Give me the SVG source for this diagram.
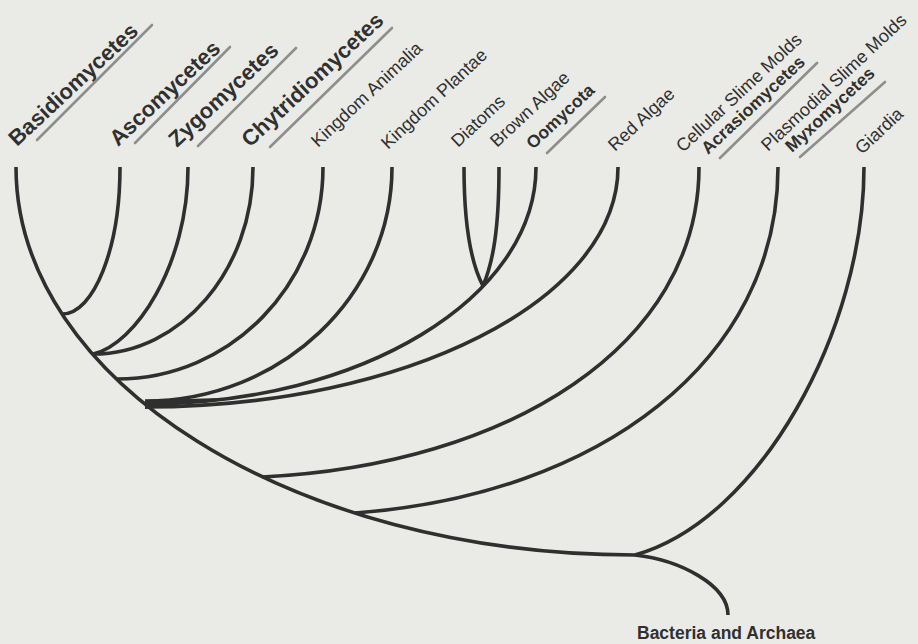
<svg xmlns="http://www.w3.org/2000/svg" width="918" height="644" viewBox="0 0 918 644">
  <style>
    .br { fill: none; stroke: #2f2f2f; stroke-width: 3.6; stroke-linecap: butt; stroke-linejoin: round; }
    .ul { stroke: #8e8e8e; stroke-width: 2.6; stroke-linecap: round; }
    .lb { font-family: "Liberation Sans", Arial, sans-serif; fill: #303030; }
    .big { font-size: 22px; font-weight: bold; }
    .reg { font-size: 18px; }
    .sub { font-size: 17.5px; font-weight: bold; }
  </style>
  <rect width="918" height="644" fill="#eaebe7"/>

  <g id="connectors">
    <path class="br" d="M16,167 C16,381 293,555 635,555"/>
    <path class="br" d="M120,167 C120,248 94,314 62,314"/>
    <path class="br" d="M188,167 C188,265 135,345 93,354"/>
    <path class="br" d="M253,167 C253,270 181,354 93,354"/>
    <path class="br" d="M323,167 C323,284 231,379 117,379"/>
    <path class="br" d="M392,167 C392,296 281,401 145,401"/>
    <path class="br" d="M536,167 C536,298 361,404 145,404"/>
    <path class="br" d="M464,167 C464,230 472,265 483,286"/>
    <path class="br" d="M499,167 C499,230 493,262 483,286"/>
    <path class="br" d="M618,167 C618,300 406,407 145,407"/>
    <path class="br" d="M699,167 C699,345 510,465 262,477"/>
    <path class="br" d="M778,167 C778,360 600,495 355,513"/>
    <path class="br" d="M864,167 C864,330 760,520 635,555"/>
    <path class="br" d="M635,555 C680,560 728,585 728,615"/>
    <path d="M145,400 L222,398 L145,409 Z" fill="#2f2f2f"/>
  </g>

  <g id="basidiomycetes">
    <text class="lb big" transform="translate(17,147) rotate(-43)">Basidiomycetes</text>
    <line class="ul" x1="37" y1="140" x2="152" y2="25"/>
  </g>
  <g id="ascomycetes">
    <text class="lb big" transform="translate(118,147) rotate(-43)">Ascomycetes</text>
    <line class="ul" x1="135" y1="143" x2="230" y2="47"/>
  </g>
  <g id="zygomycetes">
    <text class="lb big" transform="translate(177,148) rotate(-43)">Zygomycetes</text>
    <line class="ul" x1="198" y1="146" x2="296" y2="48"/>
  </g>
  <g id="chytridiomycetes">
    <text class="lb big" transform="translate(250,148) rotate(-43)">Chytridiomycetes</text>
    <line class="ul" x1="270" y1="147" x2="392" y2="28"/>
  </g>
  <g id="animalia">
    <text class="lb reg" transform="translate(318,148) rotate(-43)">Kingdom Animalia</text>
  </g>
  <g id="plantae">
    <text class="lb reg" transform="translate(388,150) rotate(-43)">Kingdom Plantae</text>
  </g>
  <g id="diatoms">
    <text class="lb reg" transform="translate(458,148) rotate(-43)">Diatoms</text>
  </g>
  <g id="brown-algae">
    <text class="lb reg" transform="translate(497,148) rotate(-43)">Brown Algae</text>
  </g>
  <g id="oomycota">
    <text class="lb sub" transform="translate(533,150) rotate(-43)">Oomycota</text>
    <line class="ul" x1="547" y1="153" x2="605" y2="97"/>
  </g>
  <g id="red-algae">
    <text class="lb reg" transform="translate(615,152) rotate(-43)">Red Algae</text>
  </g>
  <g id="cellular-slime-molds">
    <text class="lb reg" transform="translate(683,153) rotate(-43)">Cellular Slime Molds</text>
    <text class="lb sub" transform="translate(708,155) rotate(-43)">Acrasiomycetes</text>
    <line class="ul" x1="720" y1="158" x2="817" y2="63"/>
  </g>
  <g id="plasmodial-slime-molds">
    <text class="lb reg" transform="translate(768,152) rotate(-43)">Plasmodial Slime Molds</text>
    <text class="lb sub" transform="translate(792,153) rotate(-43)">Myxomycetes</text>
    <line class="ul" x1="800" y1="157" x2="885" y2="82"/>
  </g>
  <g id="giardia">
    <text class="lb reg" transform="translate(862,155) rotate(-43)">Giardia</text>
  </g>
  <g id="bacteria-archaea">
    <text class="lb" x="637" y="639" font-size="17.5" font-weight="bold">Bacteria and Archaea</text>
  </g>
</svg>
